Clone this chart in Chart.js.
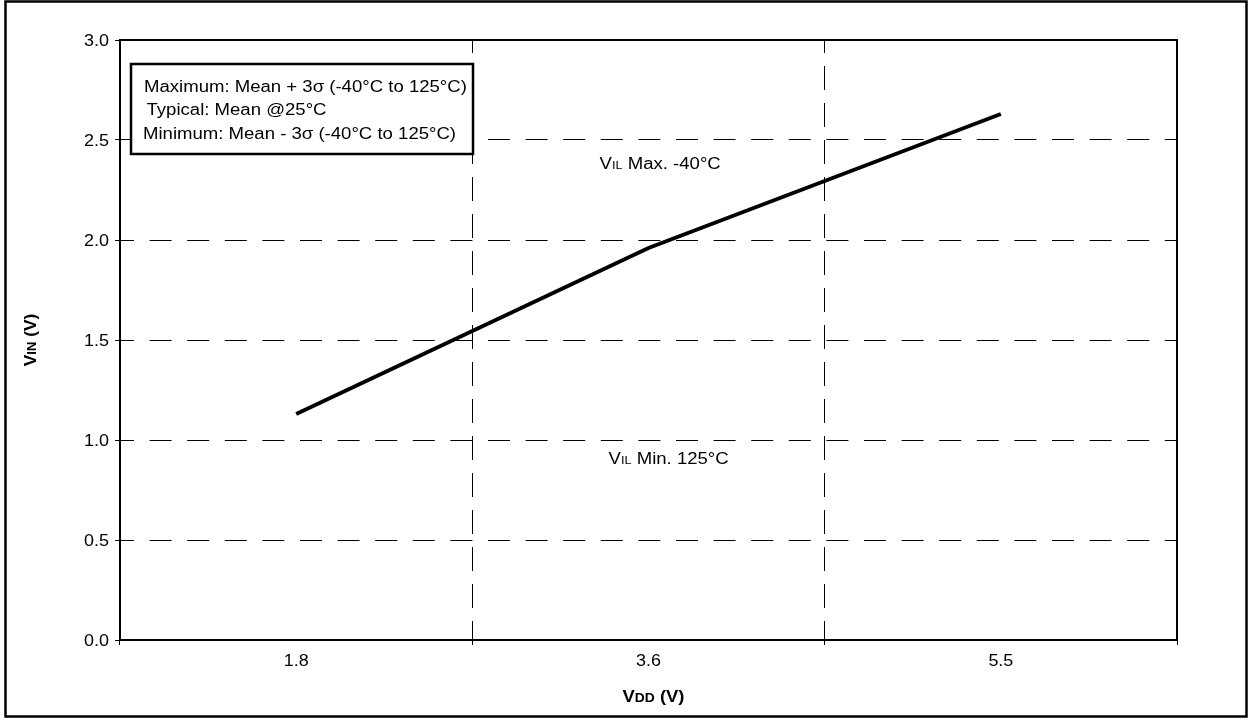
<!DOCTYPE html>
<html>
<head>
<meta charset="utf-8">
<title>VIL vs VDD</title>
<script src="https://cdn.jsdelivr.net/npm/chart.js@4.4.1/dist/chart.umd.min.js"></script>
<style>
    html, body { margin: 0; padding: 0; background: #fff; }
    #wrap { width: 1249px; height: 719px; position: relative; }
</style>
</head>
<body>
<div id="wrap"><canvas id="vilChart"></canvas></div>
<script>
"use strict";

// ---------------- data ----------------
const vddLabels = ["1.8", "3.6", "5.5"];          // VDD (V) categories
const vilMax40 = [1.13, 1.96, 2.63];               // VIL Max. -40°C
const yTickValues = [0, 0.5, 1.0, 1.5, 2.0, 2.5, 3.0];

const legendLines = [
    "Maximum: Mean + 3\u03c3 (-40\u00b0C to 125\u00b0C)",
    "Typical: Mean @25\u00b0C",
    "Minimum: Mean - 3\u03c3 (-40\u00b0C to 125\u00b0C)"
];

const FONT = "'Liberation Sans', Arial, sans-serif";
const SX = 1.16; // the original text is drawn a bit wide

Chart.defaults.font.family = FONT;
Chart.defaults.font.size = 16;
Chart.defaults.color = "#000";

// draw a run of text pieces (mixed sizes) starting at x, stretched horizontally
function drawRun(ctx, parts, x, y, align, sx) {
    const stretch = sx || SX;
    let width = 0;
    parts.forEach(p => {
        ctx.font = (p.bold ? "bold " : "") + p.size + "px " + FONT;
        p.w = ctx.measureText(p.t).width;
        width += p.w;
    });
    ctx.save();
    ctx.translate(x, y);
    ctx.scale(stretch, 1);
    let cx = align === "center" ? -width / 2 : (align === "right" ? -width : 0);
    ctx.textAlign = "left";
    ctx.textBaseline = "alphabetic";
    ctx.fillStyle = "#000";
    parts.forEach(p => {
        ctx.font = (p.bold ? "bold " : "") + p.size + "px " + FONT;
        ctx.fillText(p.t, cx, 0);
        cx += p.w;
    });
    ctx.restore();
}

// frame, legend box, tick labels, axis titles and curve labels
const decorPlugin = {
    id: "decor",
    afterDraw(chart) {
        const ctx = chart.ctx;
        const area = chart.chartArea;
        const xs = chart.scales.x;
        const ys = chart.scales.y;

        ctx.save();
        ctx.strokeStyle = "#000";
        ctx.setLineDash([]);

        // plot frame
        ctx.lineWidth = 2;
        ctx.strokeRect(area.left, area.top, area.right - area.left, area.bottom - area.top);

        // outer frame
        ctx.lineWidth = 2.5;
        ctx.strokeRect(5.5, 1.5, 1241, 715);

        // legend box
        ctx.fillStyle = "#fff";
        ctx.fillRect(131, 64, 342, 90);
        ctx.lineWidth = 2.5;
        ctx.strokeRect(131, 64, 342, 90);
        ctx.restore();

        drawRun(ctx, [{ t: legendLines[0], size: 16 }], 144, 91.5);
        drawRun(ctx, [{ t: legendLines[1], size: 16 }], 146.5, 114.5);
        drawRun(ctx, [{ t: legendLines[2], size: 16 }], 143, 139);

        // tick labels from the scales
        ys.ticks.forEach(t => {
            drawRun(ctx, [{ t: Number(t.value).toFixed(1), size: 16 }],
                area.left - 11, ys.getPixelForValue(t.value) + 6, "right", 1.12);
        });
        vddLabels.forEach((lbl, i) => {
            drawRun(ctx, [{ t: lbl, size: 16 }],
                xs.getPixelForValue(i), area.bottom + 26, "center", 1.12);
        });

        // curve labels
        drawRun(ctx, [
            { t: "V", size: 16 }, { t: "IL", size: 11 }, { t: " Max. -40\u00b0C", size: 16 }
        ], xs.getPixelForValue(1) - 49, ys.getPixelForValue(2.355));
        drawRun(ctx, [
            { t: "V", size: 16 }, { t: "IL", size: 11 }, { t: " Min. 125\u00b0C", size: 16 }
        ], xs.getPixelForValue(1) - 40, ys.getPixelForValue(0.88));

        // x axis title
        drawRun(ctx, [
            { t: "V", size: 16, bold: true }, { t: "DD", size: 12, bold: true },
            { t: " (V)", size: 16, bold: true }
        ], (area.left + area.right) / 2 + 5, 702, "center", 1.15);

        // y axis title (rotated)
        ctx.save();
        ctx.translate(36, (area.top + area.bottom) / 2);
        ctx.rotate(-Math.PI / 2);
        drawRun(ctx, [
            { t: "V", size: 16, bold: true }, { t: "IN", size: 12, bold: true },
            { t: " (V)", size: 16, bold: true }
        ], 0, 0, "center", 1.08);
        ctx.restore();
    }
};

new Chart(document.getElementById("vilChart"), {
    type: "line",
    data: {
        labels: vddLabels,
        datasets: [
            {
                label: "VIL Max. -40\u00b0C",
                data: vilMax40,
                borderColor: "#000",
                borderWidth: 4,
                pointRadius: 0,
                tension: 0,
                fill: false
            }
        ]
    },
    options: {
        responsive: true,
        maintainAspectRatio: false,
        animation: false,
        layout: {
            padding: { left: 0, top: 40, right: 72, bottom: 0 }
        },
        plugins: {
            legend: { display: false },
            title: { display: false },
            tooltip: { enabled: false }
        },
        scales: {
            x: {
                type: "category",
                offset: true,
                grid: {
                    offset: true,
                    color: "#000",
                    lineWidth: 1,
                    tickLength: 5,
                    tickColor: "#000",
                    tickBorderDash: []
                },
                border: { display: false, dash: [24, 13], dashOffset: 11 },
                ticks: { display: false },
                afterFit(scale) { scale.height = 79; }
            },
            y: {
                min: 0,
                max: 3,
                afterBuildTicks(scale) {
                    scale.ticks = yTickValues.map(v => ({ value: v }));
                },
                grid: {
                    color: "#000",
                    lineWidth: 1,
                    tickLength: 5,
                    tickColor: "#000",
                    tickBorderDash: []
                },
                border: { display: false, dash: [22, 15.6], dashOffset: 8 },
                ticks: { display: false },
                afterFit(scale) { scale.width = 120; }
            }
        }
    },
    plugins: [decorPlugin]
});
</script>
</body>
</html>
